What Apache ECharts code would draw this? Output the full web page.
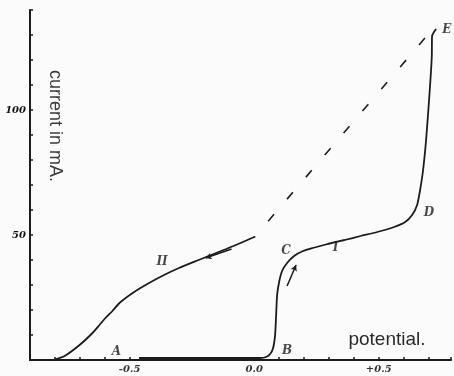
<!DOCTYPE html>
<html>
<head>
<meta charset="utf-8">
<script src="https://cdn.jsdelivr.net/npm/echarts@6/dist/echarts.min.js"></script>
<style>
  html, body { margin: 0; padding: 0; background: #fbfbfb; }
  #chart { width: 454px; height: 376px; }
</style>
</head>
<body>
<div id="chart"></div>
<script>
// Potential (V) and current (mA) readings for the two sweeps.
const curve2Potential = [-0.808, -0.761, -0.701, -0.653, -0.621, -0.597, -0.569, -0.541, -0.482, -0.422, -0.362, -0.302, -0.223, -0.143, -0.083, 0.000];
const curve2Current   = [0.0, 1.6, 6.0, 10.4, 14.0, 16.8, 19.6, 22.8, 27.2, 30.8, 34.0, 36.8, 40.0, 43.2, 45.6, 49.2];

const curve1Potential = [-0.462, -0.223, 0.024, 0.048, 0.064, 0.076, 0.084, 0.088, 0.092, 0.100, 0.112, 0.132, 0.160, 0.196, 0.235, 0.295, 0.363, 0.427, 0.494, 0.562, 0.606, 0.634, 0.654, 0.666, 0.678, 0.690, 0.702, 0.710, 0.713, 0.714, 0.730];
const curve1Current   = [0.8, 0.8, 0.8, 1.2, 2.4, 4.8, 10.0, 18.0, 26.0, 31.2, 35.6, 38.8, 41.6, 43.6, 44.8, 46.4, 48.0, 49.6, 51.2, 53.2, 55.2, 58.0, 62.0, 68.0, 76.0, 88.0, 104.0, 116.0, 122.0, 129.6, 132.4];

// Straight extrapolation from the end of sweep II up to E.
const dashPotential = [0.0, 0.72];
const dashCurrent   = [49.0, 132.8];

// Direction arrows: [start, end] for each sweep.
const arrow2Potential = [-0.091, -0.195];
const arrow2Current   = [44.4, 40.8];
const arrow1Potential = [0.132, 0.168];
const arrow1Current   = [29.6, 38.0];

// Point letters and curve numbers.
const markNames     = ['A', 'B', 'C', 'D', 'E', 'I', 'II'];
const markPotential = [-0.553, 0.132, 0.128, 0.702, 0.773, 0.327, -0.370];
const markCurrent   = [3.2, 3.6, 43.6, 58.8, 132.0, 44.8, 39.2];

// Axis tick labels.
const yLabelValues = [50, 100];
const xLabelValues = [-0.5, 0.0, 0.5];
const xLabelTexts  = ['-0.5', '0.0', '+0.5'];

const zip = (xs, ys) => xs.map((x, i) => [x, ys[i]]);

const ink = '#1c1c1c';
const handFont = 'DejaVu Serif';

const chart = echarts.init(document.getElementById('chart'), null, { renderer: 'canvas' });

chart.setOption({
  backgroundColor: '#fbfbfb',
  animation: false,
  grid: { left: 30, right: 0, top: 10, bottom: 16, containLabel: false },
  xAxis: {
    type: 'value',
    min: -0.9,
    max: 0.79,
    interval: 0.1,
    splitLine: { show: false },
    axisLine: { onZero: false, lineStyle: { color: ink, width: 2 } },
    axisTick: { inside: true, length: 3, lineStyle: { color: ink, width: 1.5 } },
    axisLabel: {
      margin: 4,
      fontFamily: handFont,
      fontStyle: 'italic',
      fontWeight: 'bold',
      fontSize: 10,
      color: '#333',
      formatter: v => {
        const k = xLabelValues.findIndex(t => Math.abs(t - v) < 1e-6);
        return k >= 0 ? xLabelTexts[k] : '';
      }
    }
  },
  yAxis: {
    type: 'value',
    min: 0,
    max: 140,
    interval: 10,
    splitLine: { show: false },
    axisLine: { onZero: false, lineStyle: { color: ink, width: 2 } },
    axisTick: { inside: true, length: 3, lineStyle: { color: ink, width: 1.5 } },
    axisLabel: {
      margin: 4,
      fontFamily: handFont,
      fontStyle: 'italic',
      fontWeight: 'bold',
      fontSize: 10,
      color: '#111',
      formatter: v => (yLabelValues.includes(v) ? String(v) : '')
    }
  },
  graphic: [
    {
      type: 'text',
      x: 55,
      y: 126,
      rotation: -Math.PI / 2,
      style: {
        text: 'current in mA.',
        x: 0, y: 0,
        textAlign: 'center',
        textVerticalAlign: 'middle',
        font: '18px "Liberation Sans"',
        fill: '#3a3a3a'
      }
    },
    {
      type: 'text',
      x: 387,
      y: 340,
      style: {
        text: 'potential.',
        x: 0, y: 0,
        textAlign: 'center',
        textVerticalAlign: 'middle',
        font: '19px "Liberation Sans"',
        fill: '#2a2a2a'
      }
    }
  ],
  series: [
    {
      name: 'II',
      type: 'line',
      data: zip(curve2Potential, curve2Current),
      smooth: 0.2,
      showSymbol: false,
      lineStyle: { color: ink, width: 1.8 },
      markLine: {
        silent: true,
        symbol: ['none', 'arrow'],
        symbolSize: [5, 6],
        label: { show: false },
        lineStyle: { color: ink, width: 1.5, type: 'solid' },
        data: [[
          { coord: [arrow2Potential[0], arrow2Current[0]] },
          { coord: [arrow2Potential[1], arrow2Current[1]] }
        ]]
      }
    },
    {
      name: 'I',
      type: 'line',
      data: zip(curve1Potential, curve1Current),
      smooth: 0.2,
      showSymbol: false,
      lineStyle: { color: ink, width: 1.8 },
      markLine: {
        silent: true,
        symbol: ['none', 'arrow'],
        symbolSize: [5, 6],
        label: { show: false },
        lineStyle: { color: ink, width: 1.5, type: 'solid' },
        data: [[
          { coord: [arrow1Potential[0], arrow1Current[0]] },
          { coord: [arrow1Potential[1], arrow1Current[1]] }
        ]]
      }
    },
    {
      name: 'extrapolation',
      type: 'line',
      data: zip(dashPotential, dashCurrent),
      showSymbol: false,
      lineStyle: { color: ink, width: 1.6, type: [9, 20], dashOffset: 7.5 }
    },
    {
      name: 'marks',
      type: 'scatter',
      symbolSize: 0,
      data: markNames.map((n, i) => ({ name: n, value: [markPotential[i], markCurrent[i]] })),
      label: {
        show: true,
        position: 'inside',
        formatter: p => p.name,
        fontFamily: handFont,
        fontStyle: 'italic',
        fontWeight: 'bold',
        fontSize: 12,
        color: ink
      }
    }
  ]
});
</script>
</body>
</html>
